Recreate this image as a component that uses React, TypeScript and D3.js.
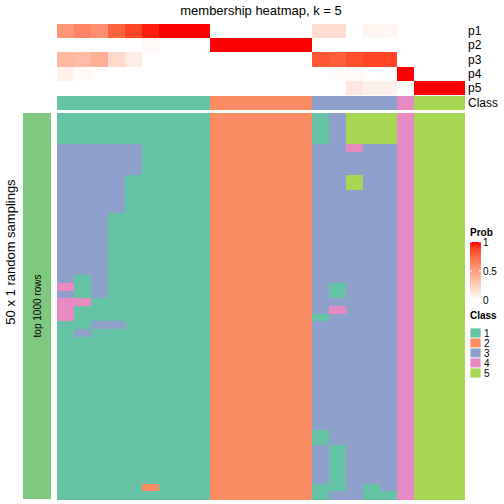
import React from "react";
import * as d3 from "d3";

const title = "membership heatmap, k = 5";
const probRows = ["p1", "p2", "p3", "p4", "p5"];
const p1 = [0.55, 0.62, 0.58, 0.78, 0.88, 0.97, 1, 1, 1, 0, 0, 0, 0, 0, 0, 0.18, 0.18, 0, 0.05, 0.05, 0, 0, 0, 0];
const p2 = [0, 0, 0, 0, 0, 0.03, 0, 0, 0, 1, 1, 1, 1, 1, 1, 0, 0, 0, 0, 0, 0, 0, 0, 0];
const p3 = [0.37, 0.35, 0.42, 0.2, 0.1, 0, 0, 0, 0, 0, 0, 0, 0, 0, 0, 0.82, 0.79, 0.85, 0.88, 0.88, 0, 0, 0, 0];
const p4 = [0.08, 0.03, 0, 0, 0, 0, 0, 0, 0, 0, 0, 0, 0, 0, 0, 0, 0.03, 0.03, 0, 0, 1, 0, 0, 0];
const p5 = [0, 0, 0, 0, 0, 0, 0, 0, 0, 0, 0, 0, 0, 0, 0, 0, 0, 0.12, 0.07, 0.07, 0, 1, 1, 1];
const classes = [1, 1, 1, 1, 1, 1, 1, 1, 1, 2, 2, 2, 2, 2, 2, 3, 3, 3, 3, 3, 4, 5, 5, 5];
const samplingRows = [
  "111111111222222135554555",
  "111111111222222135554555",
  "111111111222222135554555",
  "111111111222222135554555",
  "333331111222222334334555",
  "333331111222222333334555",
  "333331111222222333334555",
  "333331111222222333334555",
  "333311111222222335334555",
  "333311111222222335334555",
  "333311111222222333334555",
  "333311111222222333334555",
  "333311111222222333334555",
  "333111111222222333334555",
  "333111111222222333334555",
  "333111111222222333334555",
  "333111111222222333334555",
  "333111111222222333334555",
  "333111111222222333334555",
  "333111111222222333334555",
  "333111111222222333334555",
  "313111111222222333334555",
  "413111111222222313334555",
  "313111111222222313334555",
  "441111111222222333334555",
  "411111111222222343334555",
  "411111111222222133334555",
  "113311111222222333334555",
  "131111111222222333334555",
  "111111111222222333334555",
  "111111111222222333334555",
  "111111111222222333334555",
  "111111111222222333334555",
  "111111111222222333334555",
  "111111111222222333334555",
  "111111111222222333334555",
  "111111111222222333334555",
  "111111111222222333334555",
  "111111111222222333334555",
  "111111111222222333334555",
  "111111111222222333334555",
  "111111111222222133334555",
  "111111111222222133334555",
  "111111111222222313334555",
  "111111111222222313334555",
  "111111111222222313334555",
  "111111111222222313334555",
  "111111111222222313334555",
  "111112111222222113134555",
  "111111111222222133114555",
];
const classLabels = ["1", "2", "3", "4", "5"];
const classColors = ["#66C2A5", "#FC8D62", "#8DA0CB", "#E78AC3", "#A6D854"];
const probTicks = [1, 0.5, 0];

const FONT = "'Liberation Sans', Arial, Helvetica, sans-serif";

export default function App() {
  const probs = [p1, p2, p3, p4, p5];
  const cols = d3.range(classes.length);
  const x = d3.scaleBand<number>().domain(cols).range([57, 465]);
  const yTop = d3.scaleBand<string>().domain(probRows).range([24, 95]);
  const yMain = d3.scaleBand<number>().domain(d3.range(samplingRows.length)).range([113, 499]);
  const probColor = d3.scaleLinear<string>().domain([0, 1]).range(["#ffffff", "#ff0000"]).interpolate(d3.interpolateLab);
  const classColor = d3.scaleOrdinal<string, string>().domain(classLabels).range(classColors);
  const classRowY = 96, classRowH = 14;
  const gradY = d3.scaleLinear().domain([0, 1]).range([300, 242]);
  const gradStops = d3.range(0, 1.0001, 0.1);
  const keyY = d3.scaleBand<string>().domain(classLabels).range([328, 378]);

  return (
    <svg width={504} height={504} style={{ position: "absolute", left: 0, top: 0, background: "#fff" }} fontFamily={FONT}>
      <defs>
        <linearGradient id="probGrad" x1="0" y1="1" x2="0" y2="0">
          {gradStops.map((t) => (
            <stop key={t} offset={t} stopColor={probColor(t)} />
          ))}
        </linearGradient>
      </defs>
      <text x={261} y={15} textAnchor="middle" fontSize={13} fill="#000">{title}</text>

      <g shapeRendering="crispEdges">
        {probs.map((row, ri) =>
          row.map((v, ci) => (
            <rect key={`p${ri}-${ci}`} x={x(ci)} y={yTop(probRows[ri])} width={x.bandwidth()} height={yTop.bandwidth()} fill={probColor(v)} />
          ))
        )}
        {classes.map((c, ci) => (
          <rect key={`c${ci}`} x={x(ci)} y={classRowY} width={x.bandwidth()} height={classRowH} fill={classColor(String(c))} />
        ))}
        {samplingRows.map((row, ri) =>
          row.split("").map((c, ci) => (
            <rect key={`m${ri}-${ci}`} x={x(ci)} y={yMain(ri)} width={x.bandwidth()} height={yMain.bandwidth() + 0.5} fill={classColor(c)} />
          ))
        )}
        <rect x={23} y={113} width={28} height={386} fill="#7FC97F" />
      </g>

      {probRows.map((r) => (
        <text key={r} x={468} y={(yTop(r) as number) + yTop.bandwidth() / 2} dominantBaseline="central" fontSize={12}>{r}</text>
      ))}
      <text x={468} y={classRowY + classRowH / 2} dominantBaseline="central" fontSize={12}>Class</text>

      <text transform="translate(37.5,306) rotate(-90)" textAnchor="middle" dominantBaseline="central" fontSize={10}>top 1000 rows</text>
      <text transform="translate(10,252) rotate(-90)" textAnchor="middle" dominantBaseline="central" fontSize={13}>50 x 1 random samplings</text>

      <text x={470} y={236} fontSize={10} fontWeight="bold">Prob</text>
      <rect x={470} y={242} width={11} height={58} fill="url(#probGrad)" />
      {probTicks.map((t) => (
        <g key={t}>
          <line x1={470} x2={472} y1={gradY(t)} y2={gradY(t)} stroke="#fff" strokeWidth={1} />
          <line x1={479} x2={481} y1={gradY(t)} y2={gradY(t)} stroke="#fff" strokeWidth={1} />
          <text x={483} y={gradY(t)} dominantBaseline="central" fontSize={10}>{String(t)}</text>
        </g>
      ))}

      <text x={470} y={319} fontSize={10} fontWeight="bold">Class</text>
      {classLabels.map((c) => (
        <g key={c}>
          <rect x={470} y={keyY(c)} width={11} height={keyY.bandwidth()} fill={classColor(c)} stroke="#fff" strokeWidth={0.8} />
          <text x={484} y={(keyY(c) as number) + keyY.bandwidth() / 2} dominantBaseline="central" fontSize={10}>{c}</text>
        </g>
      ))}
    </svg>
  );
}
